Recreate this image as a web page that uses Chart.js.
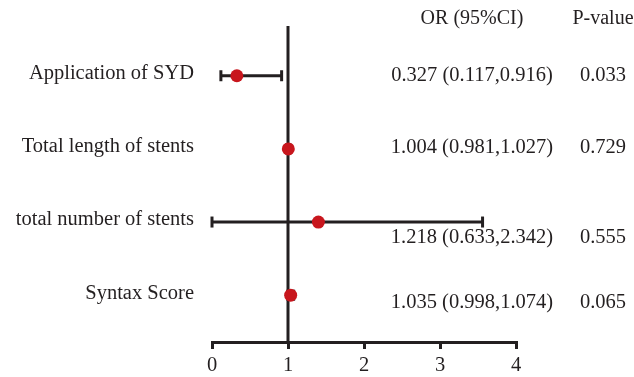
<!DOCTYPE html>
<html>
<head>
<meta charset="utf-8">
<script src="https://cdn.jsdelivr.net/npm/chart.js@4.4.1/dist/chart.umd.min.js"></script>
<style>
  html, body { margin: 0; padding: 0; background: #fff; }
  .wrap { width: 634px; height: 377px; position: relative; }
</style>
</head>
<body>
<div class="wrap"><canvas id="forest"></canvas></div>
<script>
const factors = ['Application of SYD', 'Total length of stents', 'total number of stents', 'Syntax Score'];
const orText = ['0.327 (0.117,0.916)', '1.004 (0.981,1.027)', '1.218 (0.633,2.342)', '1.035 (0.998,1.074)'];
const pText = ['0.033', '0.729', '0.555', '0.065'];
// estimates and CI ends as they are drawn in the figure
const orPlot = [0.327, 1.004, 1.40, 1.035];
const lowPlot = [0.117, 0.981, 0.0, 0.998];
const highPlot = [0.916, 1.027, 3.56, 1.074];
const xTicks = [0, 1, 2, 3, 4];

const ink = '#231f20';
const red = '#c8161d';
const serif = "'Liberation Serif', 'Times New Roman', serif";
const yMin = -0.68, yMax = 3.64;

// ---- right-hand text columns ----
const rowTextY = [76, 148, 238, 303];
const sideText = {
  id: 'sideText',
  afterDraw(chart) {
    const ctx = chart.ctx;
    ctx.save();
    ctx.fillStyle = ink;
    ctx.textAlign = 'center';
    ctx.textBaseline = 'middle';
    ctx.font = `20px ${serif}`;
    ctx.fillText('OR (95%CI)', 472, 19);
    ctx.fillText('P-value', 603, 19);
    ctx.font = `20.5px ${serif}`;
    rowTextY.forEach((y, i) => {
      ctx.fillText(orText[i], 472, y);
      ctx.fillText(pText[i], 603, y);
    });
    ctx.restore();
  }
};

const ciSets = factors.map((f, i) => ({
  data: [{ x: lowPlot[i], y: i }, { x: highPlot[i], y: i }],
  showLine: true,
  borderColor: ink,
  borderWidth: 3,
  pointStyle: 'line',
  pointRotation: 90,
  pointRadius: 5.5,
  pointBorderWidth: 3,
  pointBorderColor: ink,
  clip: false,
  order: 1
}));

new Chart(document.getElementById('forest'), {
  type: 'scatter',
  data: {
    datasets: [
      {
        data: orPlot.map((v, i) => ({ x: v, y: i })),
        pointRadius: 6.5,
        pointBackgroundColor: red,
        pointBorderWidth: 0,
        clip: false,
        order: 0
      },
      ...ciSets,
      {
        data: [{ x: 1, y: yMin }, { x: 1, y: yMax }],
        showLine: true,
        borderColor: ink,
        borderWidth: 3,
        pointRadius: 0,
        clip: false,
        order: 2
      }
    ]
  },
  options: {
    responsive: true,
    maintainAspectRatio: false,
    animation: false,
    events: [],
    layout: { padding: { left: 0, right: 118, top: 26, bottom: 0 } },
    plugins: { legend: { display: false }, tooltip: { enabled: false } },
    scales: {
      x: {
        type: 'linear',
        min: 0,
        max: 4,
        afterBuildTicks: s => { s.ticks = xTicks.map(v => ({ value: v })); },
        afterFit: s => { s.height = 35; },
        ticks: { color: ink, font: { family: serif, size: 20.5 }, padding: 4 },
        grid: { drawOnChartArea: false, drawTicks: true, tickLength: 7, lineWidth: 3, color: ink },
        border: { color: ink, width: 3 }
      },
      y: {
        type: 'linear',
        reverse: true,
        min: yMin,
        max: yMax,
        afterBuildTicks: s => { s.ticks = factors.map((f, i) => ({ value: i })); },
        afterFit: s => { s.width = 212; },
        ticks: {
          color: ink,
          autoSkip: false,
          padding: 10,
          labelOffset: -2,
          font: { family: serif, size: 20.5 },
          callback: v => factors[v]
        },
        grid: { display: false },
        border: { display: false }
      }
    }
  },
  plugins: [sideText]
});
</script>
</body>
</html>
